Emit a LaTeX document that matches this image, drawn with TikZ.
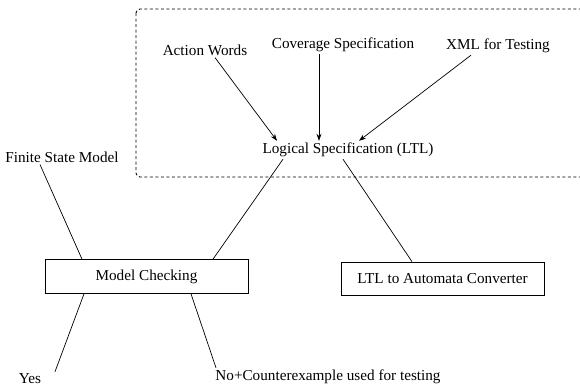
\documentclass[tikz,border=0pt]{standalone}
\usepackage{fontspec}
\setmainfont{Liberation Serif}
\usetikzlibrary{arrows.meta}
\begin{document}
\begin{tikzpicture}[x=1pt,y=-1pt,
  lbl/.style={font=\fontsize{15.2}{18}\selectfont, inner sep=2pt},
  boxnode/.style={lbl, draw, line width=0.7pt, minimum width=203pt, minimum height=34pt},
  conn/.style={line width=0.7pt},
  arr/.style={conn, -{Stealth[length=7pt,width=5pt]}},
  grp/.style={line width=0.85pt, dash pattern=on 3pt off 2.5pt, rounded corners=4pt}]
\useasboundingbox (0,0) rectangle (580,388);
\draw[grp] (136,9) rectangle (600,177);
\node[lbl] (aw) at (205,50) {Action Words};
\node[lbl] (cov) at (343,45) {Coverage Specification};
\node[lbl] (xml) at (498,46) {XML for Testing};
\node[lbl] (lts) at (348,150) {Logical Specification (LTL)};
\node[lbl] (fsm) at (62,157) {Finite State Model};
\node[boxnode] (mc) at (146.5,276.5) {Model Checking};
\node[boxnode, minimum height=33pt] (lac) at (442.5,278.5) {LTL to Automata Converter};
\node[lbl] (yes) at (30,379) {Yes};
\node[lbl] (no) at (328,377) {No+Counterexample used for testing};
\draw[arr] ([xshift=10pt]aw.south) -- ([xshift=-71pt]lts.north);
\draw[arr] ([xshift=-24pt]cov.south) -- ([xshift=-29pt]lts.north);
\draw[arr] ([xshift=-27pt]xml.south) -- ([xshift=11pt]lts.north);
\draw[conn] ([xshift=-65pt]lts.south) -- ([xshift=66.5pt]mc.north);
\draw[conn] ([xshift=-5pt]lts.south) -- ([xshift=-30.5pt]lac.north);
\draw[conn] ([xshift=-22pt]fsm.south) -- ([xshift=-64.5pt]mc.north);
\draw[conn] ([xshift=-62.5pt]mc.south) -- ([xshift=25pt]yes.north);
\draw[conn] ([xshift=44.5pt]mc.south) -- ([xshift=-112pt]no.north);
\end{tikzpicture}
\end{document}
